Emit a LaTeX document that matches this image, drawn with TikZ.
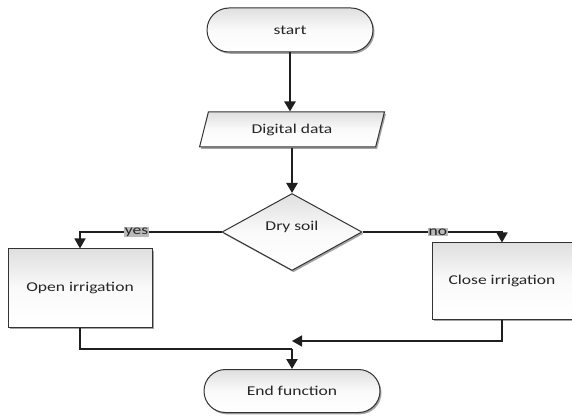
\documentclass[tikz,border=0pt]{standalone}
\usepackage{fontspec}
\setmainfont{Carlito}[FakeStretch=1.3]
\usetikzlibrary{shapes.geometric,shapes.misc,arrows.meta,shadows}
\begin{document}
\begin{tikzpicture}[x=1pt,y=-1pt,
  box/.style={draw=black!80, line width=1pt, top color=gray!25, bottom color=white, middle color=white!96!gray,
    drop shadow={shadow xshift=1.5pt, shadow yshift=-1.8pt, opacity=0.55, fill=black!65},
    font=\fontsize{13.5}{15}\selectfont, text=black!85, inner sep=0pt},
  pill/.style={box, rounded rectangle},
  procbox/.style={box, rectangle},
  flow/.style={draw=black!88, line width=2.4pt, -{Triangle[width=11pt,length=10pt]}},
  thinflow/.style={draw=black!88, line width=1.6pt, -{Triangle[width=11pt,length=10pt]}},
  plain/.style={draw=black!88, line width=1.8pt},
  lbl/.style={fill=gray!55, inner sep=1pt, font=\fontsize{13.5}{15}\selectfont, text=black!85}]
\useasboundingbox (0,0) rectangle (572,419);
\node[pill, minimum width=166pt, minimum height=44pt] (start) at (290,30) {start};
\node[box, trapezium, trapezium left angle=70, trapezium right angle=110, trapezium stretches=true,
      minimum width=185pt, minimum height=35pt] (data) at (292,129.5) {Digital data};
\node[box, diamond, minimum width=140pt, minimum height=77pt] (dry) at (292,232) {\raisebox{12pt}{Dry soil}};
\node[procbox, minimum width=144pt, minimum height=78pt] (open) at (80,288) {Open irrigation};
\node[procbox, minimum width=140pt, minimum height=76pt] (close) at (502,281) {Close irrigation};
\node[pill, minimum width=176pt, minimum height=43pt] (end) at (292,391) {End function};
\coordinate (j1) at (292,349);
\coordinate (j2) at (292,341);
\draw[flow] (start.south) -- (start.south |- data.north);
\draw[flow] (data.south -| dry.north) -- (dry.north);
\draw[thinflow] (dry.west) -| node[lbl, pos=0.3] {yes} (open.north);
\draw[thinflow] (dry.east) -| node[lbl, pos=0.27] {no} (close.north);
\draw[plain] (open.south) |- (j1);
\draw[flow] (j1) -- (end.north);
\draw[thinflow] (close.south) |- (j2);
\end{tikzpicture}
\end{document}
